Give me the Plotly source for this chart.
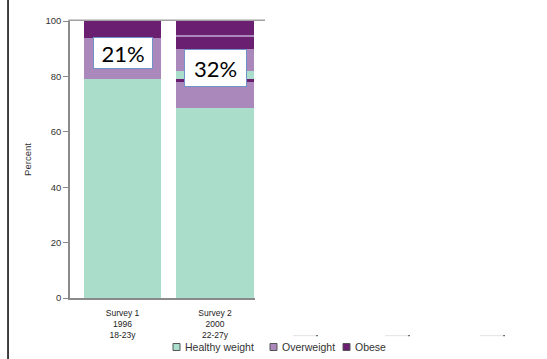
import plotly.graph_objects as go

# ---- data ----
categories = ["Survey 1<br>1996<br>18-23y", "Survey 2<br>2000<br>22-27y"]
series_names = ["Healthy weight", "Overweight", "Obese"]
healthy = [79, 68.5]
overweight = [15, 9.8]
obese = [6, 0.7]
# overlaid segments visible in the second bar
healthy_b = [0, 2.9]
overweight_b = [0, 8.0]
obese_b = [0, 4.2]
overweight_c = [0, 0.9]
obese_c = [0, 5.3]
callouts = ["21%", "32%"]
callout_y = [88.3, 82.9]
y_ticks = [0, 20, 40, 60, 80, 100]

C_HEALTHY = "#aadecb"
C_OVER = "#ab88bb"
C_OBESE = "#6a1f70"
colors = {"Healthy weight": C_HEALTHY, "Overweight": C_OVER, "Obese": C_OBESE}

fig = go.Figure()
stack = [
    ("Healthy weight", healthy),
    ("Overweight", overweight),
    ("Obese", obese),
    ("Healthy weight", healthy_b),
    ("Overweight", overweight_b),
    ("Obese", obese_b),
    ("Overweight", overweight_c),
    ("Obese", obese_c),
]
for name, vals in stack:
    fig.add_trace(go.Bar(
        x=categories, y=vals, name=name, showlegend=False,
        marker=dict(color=colors[name], line=dict(width=0)),
        hoverinfo="skip",
    ))

fig.update_layout(
    barmode="stack",
    bargap=0.16,
    width=547, height=359,
    margin=dict(l=70, r=292, t=21, b=61),
    paper_bgcolor="white", plot_bgcolor="white",
    font=dict(family="Liberation Sans, Arial, sans-serif", color="#333333"),
    showlegend=False,
)
fig.update_xaxes(
    range=[-0.568, 1.432],
    showline=True, linecolor="#8a8a8a", linewidth=1.5,
    showgrid=False, ticks="", tickfont=dict(size=8.5, color="#222222"),
    ticklabelstandoff=6,
)
fig.update_yaxes(
    range=[0, 100], tickvals=y_ticks,
    showline=True, linecolor="#8a8a8a", linewidth=1.5,
    ticks="outside", ticklen=5, tickcolor="#8a8a8a", tickwidth=1,
    showgrid=False, zeroline=False,
    tickfont=dict(size=9.5, color="#333333"),
    title=dict(text="Percent", font=dict(size=9.5, color="#333333"), standoff=12),
)

# callout boxes
for i, (txt, yv) in enumerate(zip(callouts, callout_y)):
    fig.add_annotation(
        x=categories[i], y=yv, xref="x", yref="y", text=txt, showarrow=False,
        font=dict(family="Lato, Liberation Sans, sans-serif", size=22, color="black"),
        bgcolor="white", bordercolor="#6f93c6", borderwidth=1, borderpad=0,
        width=58 if i == 0 else 61, height=30 if i == 0 else 36,
    )

# top border line of the chart frame
fig.add_shape(type="line", xref="paper", yref="paper",
              x0=-0.01, x1=1.054, y0=1.003, y1=1.003,
              line=dict(color="#a0a0a0", width=1.5))
# left black frame line
fig.add_shape(type="line", xref="paper", yref="paper",
              x0=-0.335, x1=-0.335, y0=-0.23, y1=1.08,
              line=dict(color="black", width=1.5))

# faint dashes
for x0, x1 in [(293, 318), (385, 410), (480, 505)]:
    px0 = (x0 - 70) / 185
    px1 = (x1 - 70) / 185
    yy = (298 - 335.7) / 277
    fig.add_shape(type="line", xref="paper", yref="paper",
                  x0=px0, x1=px1 - 0.01, y0=yy, y1=yy,
                  line=dict(color="#e2e2e2", width=1))
    fig.add_shape(type="line", xref="paper", yref="paper",
                  x0=px1 - 0.01, x1=px1, y0=yy, y1=yy,
                  line=dict(color="#666666", width=1.2))

# manual legend
leg_y = (298 - 347) / 277
leg_items = [(173, 183), (270, 280), (343, 353)]
for name, (sx, tx) in zip(series_names, leg_items):
    fig.add_shape(type="rect", xref="paper", yref="paper",
                  x0=(sx - 70) / 185, x1=(sx + 7 - 70) / 185,
                  y0=leg_y - 3.5 / 277, y1=leg_y + 3.5 / 277,
                  fillcolor=colors[name], line=dict(color="#555555", width=1))
    fig.add_annotation(x=(tx - 70) / 185, y=leg_y, xref="paper", yref="paper",
                       text=name, showarrow=False, xanchor="left", yanchor="middle",
                       font=dict(size=10.5, color="#333333"))

fig.write_html(
    "out.html",
    config={"displayModeBar": False},
    post_script="document.body.style.margin='0';document.body.style.overflow='hidden';",
)
